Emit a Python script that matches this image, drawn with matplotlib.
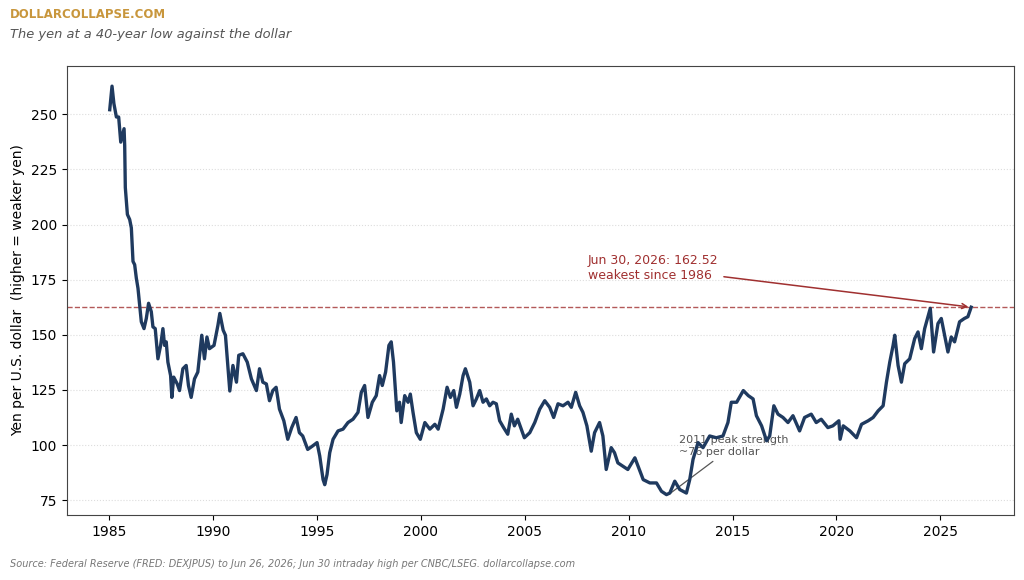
import matplotlib.pyplot as plt
import numpy as np

# yen per dollar (decimal years)
years = [
    1985.02, 1985.13, 1985.22, 1985.34, 1985.45, 1985.55, 1985.71, 1985.74, 1985.77, 1985.87,
    1985.98, 1986.06, 1986.14, 1986.22, 1986.30, 1986.38, 1986.46, 1986.54, 1986.67, 1986.78,
    1986.89, 1987.02, 1987.10, 1987.21, 1987.34, 1987.47, 1987.58, 1987.66, 1987.74, 1987.82,
    1987.95, 1988.01, 1988.10, 1988.27, 1988.38, 1988.54, 1988.70, 1988.81, 1988.94, 1989.10,
    1989.26, 1989.45, 1989.58, 1989.70, 1989.82, 1990.04, 1990.23, 1990.32, 1990.48, 1990.59,
    1990.69, 1990.80, 1990.95, 1991.12, 1991.23, 1991.43, 1991.64, 1991.84, 1992.08, 1992.23,
    1992.39, 1992.56, 1992.71, 1992.87, 1993.03, 1993.19, 1993.40, 1993.59, 1993.78, 1993.99,
    1994.15, 1994.31, 1994.55, 1994.79, 1995.00, 1995.13, 1995.29, 1995.37, 1995.48, 1995.61,
    1995.77, 1996.01, 1996.25, 1996.49, 1996.73, 1996.97, 1997.13, 1997.29, 1997.45, 1997.66,
    1997.85, 1998.01, 1998.14, 1998.30, 1998.46, 1998.57, 1998.68, 1998.78, 1998.84, 1998.97,
    1999.05, 1999.22, 1999.38, 1999.49, 1999.62, 1999.78, 1999.97, 2000.19, 2000.43, 2000.67,
    2000.83, 2001.07, 2001.26, 2001.42, 2001.58, 2001.71, 2001.87, 2002.03, 2002.14, 2002.35,
    2002.51, 2002.67, 2002.83, 2002.99, 2003.15, 2003.31, 2003.47, 2003.63, 2003.79, 2003.98,
    2004.18, 2004.35, 2004.50, 2004.66, 2004.83, 2004.98, 2005.24, 2005.48, 2005.72, 2005.96,
    2006.20, 2006.39, 2006.60, 2006.84, 2007.08, 2007.24, 2007.45, 2007.64, 2007.80, 2007.99,
    2008.20, 2008.36, 2008.60, 2008.76, 2008.92, 2009.16, 2009.32, 2009.48, 2009.72, 2009.96,
    2010.30, 2010.70, 2011.02, 2011.34, 2011.58, 2011.82, 2011.98, 2012.22, 2012.46, 2012.78,
    2012.94, 2013.10, 2013.34, 2013.58, 2013.90, 2014.22, 2014.54, 2014.78, 2014.94, 2015.20,
    2015.52, 2015.76, 2015.99, 2016.15, 2016.40, 2016.64, 2016.79, 2016.99, 2017.19, 2017.43,
    2017.67, 2017.91, 2018.23, 2018.47, 2018.79, 2019.03, 2019.27, 2019.59, 2019.83, 2020.12,
    2020.18, 2020.33, 2020.65, 2020.97, 2021.21, 2021.53, 2021.77, 2022.01, 2022.25, 2022.41,
    2022.57, 2022.73, 2022.81, 2022.97, 2023.13, 2023.29, 2023.53, 2023.77, 2023.93, 2024.09,
    2024.25, 2024.52, 2024.68, 2024.89, 2025.05, 2025.21, 2025.37, 2025.53, 2025.69, 2025.93,
    2026.16, 2026.33, 2026.49,
]
yen = [
    252.1, 262.8, 254.9, 248.8, 248.8, 237.4, 243.5, 235.8, 216.8, 204.6,
    202.3, 198.5, 183.3, 181.8, 175.7, 171.1, 163.5, 155.9, 152.8, 157.4,
    164.3, 160.5, 153.6, 152.8, 139.1, 145.2, 152.8, 145.2, 146.8, 137.6,
    131.5, 121.6, 130.8, 127.7, 124.7, 134.6, 136.1, 127.0, 121.6, 130.0,
    133.1, 149.8, 139.1, 149.0, 143.7, 145.2, 154.4, 159.7, 152.1, 149.8,
    137.6, 124.5, 136.1, 128.5, 140.7, 141.4, 137.6, 130.0, 124.7, 134.6,
    128.5, 127.7, 120.1, 124.7, 126.2, 116.3, 111.0, 102.6, 107.9, 112.5,
    105.6, 104.1, 98.0, 99.6, 101.1, 95.0, 84.3, 82.0, 86.6, 96.5,
    102.6, 106.4, 107.2, 110.2, 111.7, 114.8, 123.9, 127.0, 112.5, 119.4,
    122.4, 131.5, 127.0, 133.1, 145.2, 146.8, 137.6, 123.9, 115.5, 119.4,
    110.2, 122.4, 119.4, 123.1, 114.8, 105.6, 102.6, 110.2, 107.2, 109.4,
    107.2, 116.3, 126.2, 121.6, 124.7, 117.1, 123.1, 131.5, 134.6, 128.5,
    117.8, 120.9, 124.7, 119.4, 120.9, 117.8, 119.4, 118.7, 111.0, 107.9,
    104.9, 114.0, 108.7, 111.7, 107.2, 103.3, 105.6, 110.2, 116.3, 120.1,
    117.1, 112.5, 118.7, 117.8, 119.4, 117.1, 123.9, 117.8, 114.8, 108.7,
    97.2, 105.6, 110.2, 104.1, 88.9, 98.8, 96.5, 91.9, 90.4, 88.9,
    94.2, 84.3, 82.8, 82.8, 79.0, 77.5, 78.2, 83.6, 79.8, 78.2,
    84.3, 93.5, 101.1, 98.8, 104.1, 103.3, 104.1, 110.2, 119.4, 119.4,
    124.7, 122.4, 120.9, 113.3, 108.7, 101.9, 104.1, 117.8, 114.0, 112.5,
    110.2, 113.3, 106.4, 112.5, 114.0, 110.2, 111.7, 107.9, 108.7, 111.0,
    102.6, 108.7, 106.4, 103.3, 109.4, 111.0, 112.5, 115.5, 117.8, 128.5,
    137.6, 145.2, 149.8, 136.1, 128.5, 136.9, 139.1, 148.3, 151.3, 143.7,
    152.8, 162.0, 142.2, 155.1, 157.4, 149.8, 142.2, 149.0, 146.8, 155.9,
    157.4, 158.2, 162.52,
]

latest_year = 2026.49
latest_value = 162.52
low_2011 = (2011.85, 77)

navy = "#1f3a5f"
brick = "#a03030"

fig = plt.figure(figsize=(10.24, 5.8), dpi=100)
ax = fig.add_axes([0.0651, 0.112, 0.9254, 0.7747])

ax.plot(years, yen, color=navy, lw=2.4, zorder=3, solid_joinstyle="round")
ax.axhline(latest_value, color=brick, lw=1, ls="--", alpha=0.8, zorder=2)

ax.set_yticks(np.arange(75, 251, 25))
ax.set_xticks(np.arange(1985, 2026, 5))
ax.set_xticklabels([str(y) for y in range(1985, 2026, 5)])
ax.tick_params(labelsize=10)
ax.yaxis.grid(True, linestyle=":", color="#dddddd", lw=0.8)
ax.set_axisbelow(True)
for s in ax.spines.values():
    s.set_color("#444444")
ax.set_ylabel("Yen per U.S. dollar  (higher = weaker yen)", fontsize=10)

ax.annotate(
    "Jun 30, 2026: 162.52\nweakest since 1986",
    xy=(latest_year, latest_value),
    xytext=(2008.03, 180.3),
    ha="left", va="center", fontsize=9, color=brick,
    arrowprops=dict(arrowstyle="->", color=brick, lw=1.1),
    zorder=4,
)
ax.annotate(
    "2011 peak strength\n~76 per dollar",
    xy=low_2011,
    xytext=(2012.4, 99.5),
    ha="left", va="center", fontsize=8, color="#555555",
    arrowprops=dict(arrowstyle="-", color="#555555", lw=0.9),
    zorder=1,
)

fig.text(0.0098, 0.975, "DOLLARCOLLAPSE.COM", fontsize=8.5, fontweight="bold",
         color="#c8963c", ha="left", va="center")
fig.text(0.0098, 0.941, "The yen at a 40-year low against the dollar", fontsize=9.4,
         style="italic", color="#555555", ha="left", va="center")
fig.text(0.0098, 0.027, "Source: Federal Reserve (FRED: DEXJPUS) to Jun 26, 2026; "
         "Jun 30 intraday high per CNBC/LSEG. dollarcollapse.com",
         fontsize=7, style="italic", color="#777777", ha="left", va="center")

plt.savefig("out.png", dpi=100)
